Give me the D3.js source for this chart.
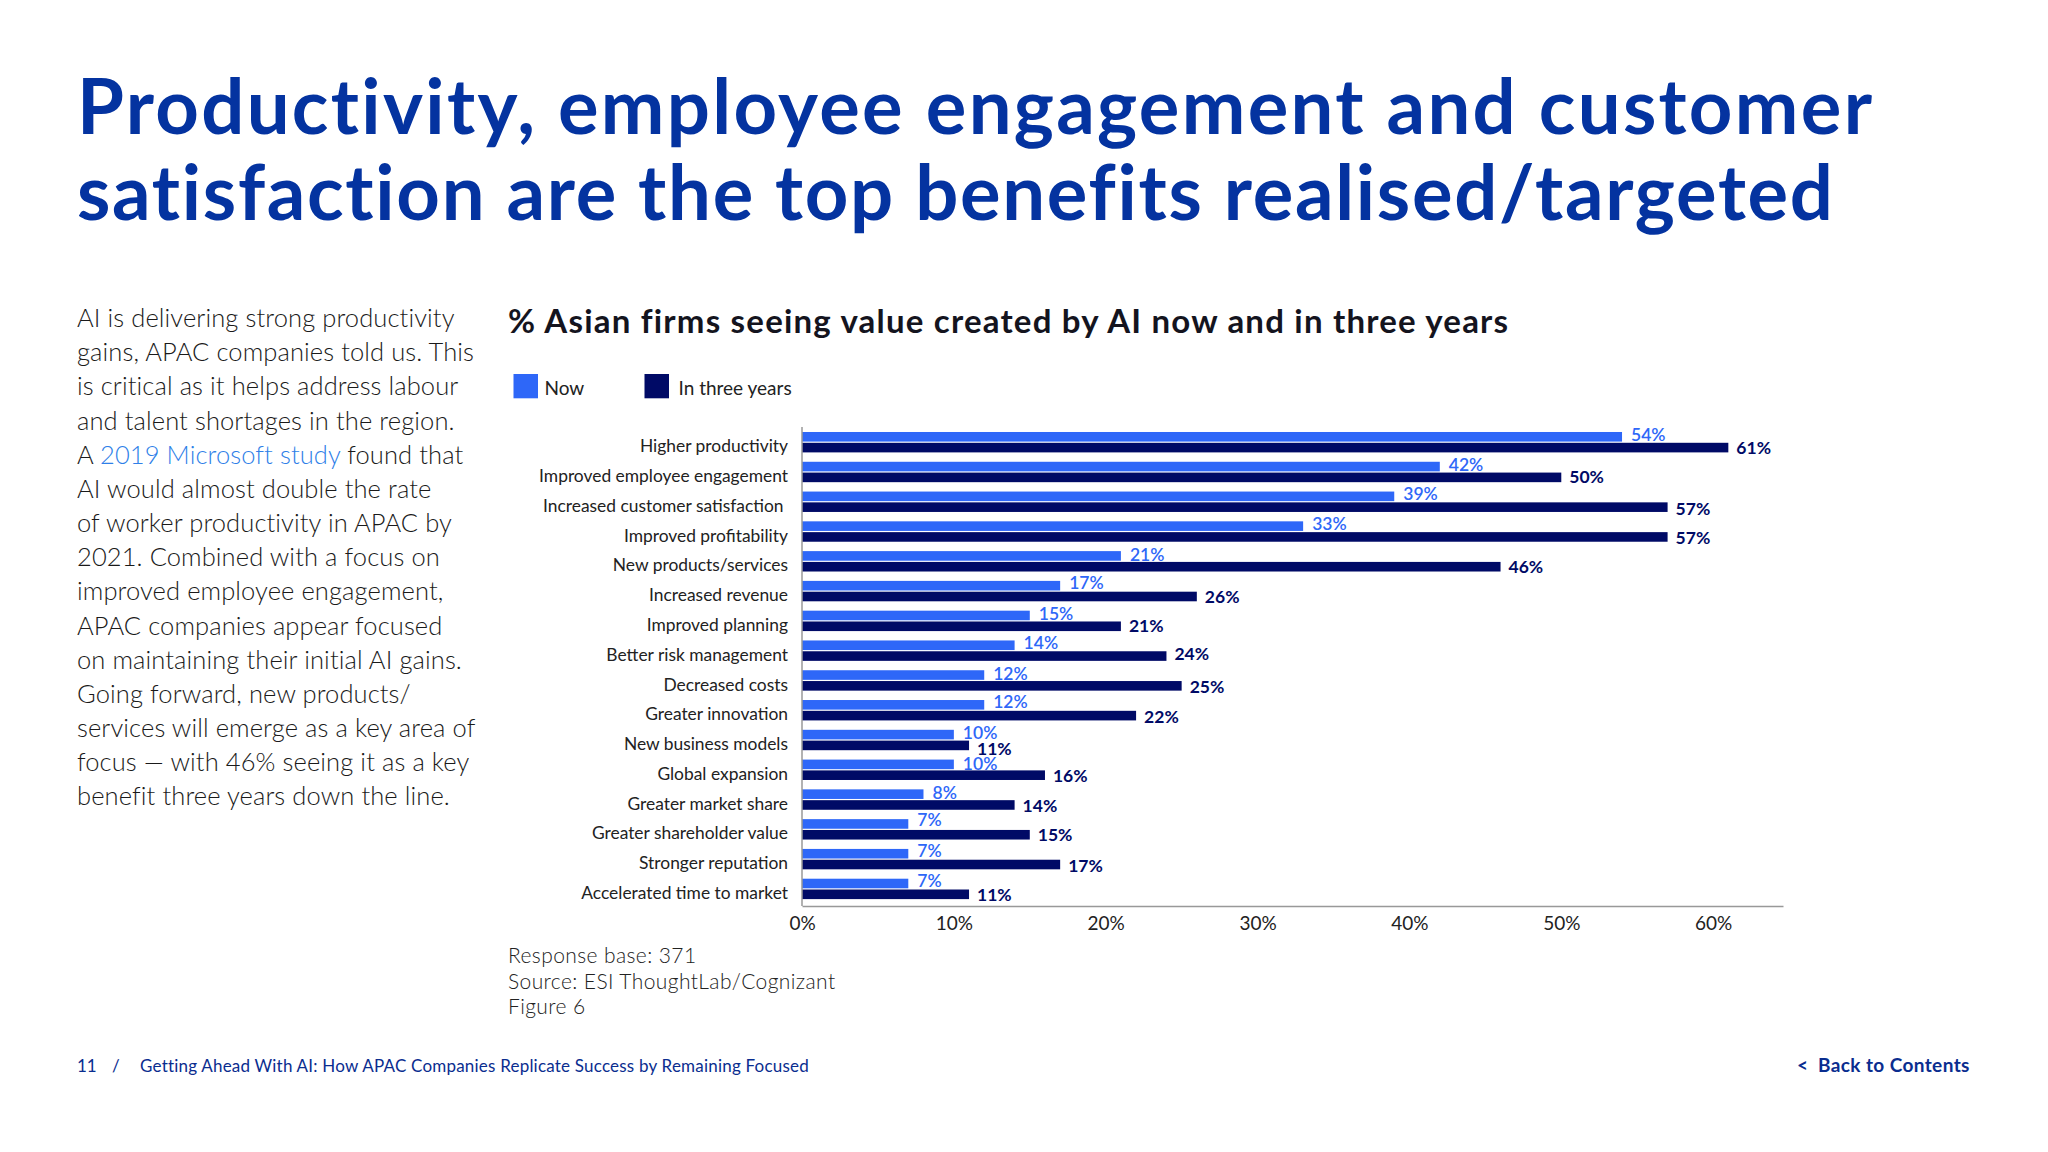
<!DOCTYPE html>
<html>
<head>
<meta charset="utf-8">
<script src="https://cdn.jsdelivr.net/npm/d3@7"></script>
<style>
  html, body { margin: 0; padding: 0; background: #fff; }
  svg { display: block; }
  text { font-family: Lato, "Open Sans", sans-serif; }
</style>
</head>
<body>
<svg id="chart" width="2048" height="1152"></svg>
<script>
var categories = ['Higher productivity', 'Improved employee engagement', 'Increased customer satisfaction',
  'Improved profitability', 'New products/services', 'Increased revenue', 'Improved planning',
  'Better risk management', 'Decreased costs', 'Greater innovation', 'New business models',
  'Global expansion', 'Greater market share', 'Greater shareholder value', 'Stronger reputation',
  'Accelerated time to market'];
var nowValues = [54, 42, 39, 33, 21, 17, 15, 14, 12, 12, 10, 10, 8, 7, 7, 7];
var threeYearValues = [61, 50, 57, 57, 46, 26, 21, 24, 25, 22, 11, 16, 14, 15, 17, 11];
var xTicks = [0, 10, 20, 30, 40, 50, 60];
var titleLines = ['Productivity, employee engagement and customer', 'satisfaction are the top benefits realised/targeted'];
var bodyLines = ['AI is delivering strong productivity', 'gains, APAC companies told us. This',
  'is critical as it helps address labour', 'and talent shortages in the region.',
  'A |2019 Microsoft study| found that', 'AI would almost double the rate',
  'of worker productivity in APAC by', '2021. Combined with a focus on',
  'improved employee engagement,', 'APAC companies appear focused',
  'on maintaining their initial AI gains.', 'Going forward, new products/',
  'services will emerge as a key area of', 'focus \u2014 with 46% seeing it as a key',
  'benefit three years down the line.'];
var noteLines = ['Response base: 371', 'Source: ESI ThoughtLab/Cognizant', 'Figure 6'];

var NOW = '#2e67f8', LATER = '#000a66', TITLE = '#0433a0', INK = '#222';

var svg = d3.select('#chart');

var x = d3.scaleLinear().domain([0, 64.6]).range([802, 1783]);
var y = d3.scaleBand().domain(categories).range([427.3, 903.8]);
var barH = 9.6;

svg.selectAll('text.title').data(titleLines).join('text')
  .attr('class', 'title')
  .attr('x', 77)
  .attr('y', function(d, i) { return 134 + i * 85.5; })
  .attr('font-size', 76).attr('font-weight', 700).attr('fill', TITLE)
  .attr('letter-spacing', function(d, i) { return i ? 1.7 : 2.3; })
  .text(function(d) { return d; });

var body = svg.selectAll('text.body').data(bodyLines).join('text')
  .attr('class', 'body')
  .attr('x', 77)
  .attr('y', function(d, i) { return 327 + i * 34.17; })
  .attr('font-size', 25.5).attr('font-weight', 300).attr('fill', '#1a1a1a')
  .attr('letter-spacing', 0.1);
body.each(function(d) {
  var parts = d.split('|'), t = d3.select(this);
  parts.forEach(function(p, i) {
    t.append('tspan').attr('fill', i === 1 ? '#2f7fe8' : null).text(p);
  });
});

svg.append('text')
  .attr('x', 508).attr('y', 333)
  .attr('font-size', 33).attr('font-weight', 700).attr('fill', '#14141e')
  .attr('letter-spacing', 1.2)
  .text('% Asian firms seeing value created by AI now and in three years');

// legend
var legend = svg.append('g');
[['Now', NOW, 513.5, 544.5], ['In three years', LATER, 644.5, 678.5]].forEach(function(l) {
  legend.append('rect').attr('x', l[2]).attr('y', 374).attr('width', 24.5).attr('height', 24.3).attr('fill', l[1]);
  legend.append('text').attr('x', l[3]).attr('y', 395).attr('font-size', 19).attr('fill', INK).text(l[0]);
});

// bars
var rows = svg.selectAll('g.row').data(categories).join('g')
  .attr('class', 'row')
  .attr('transform', function(d) { return 'translate(0,' + y(d) + ')'; });
var mid = y.bandwidth() / 2;

// now labels sit under the dark bars, the 10% on global expansion is cut by its bar
var nowNudge = [-2, -2, -2, -2, -1.3, -2.7, -1.7, -2, -1.3, -2.7, -1.3, -0.7, -1.3, -3.7, -3.3, -2.7];
var laterNudge = [0, 0, 1.3, 0.7, 0, 0, 0, -2, 1.5, 1.7, 3, 1, 1, 0, 1.3, 1];

rows.append('text')
  .attr('x', function(d, i) { return x(nowValues[i]) + 9; })
  .attr('y', function(d, i) { return mid - barH / 2 - 0.6 + nowNudge[i]; })
  .attr('dy', '0.35em')
  .attr('font-size', 17.5).attr('font-weight', 600).attr('fill', NOW)
  .text(function(d, i) { return nowValues[i] + '%'; });
rows.append('rect')
  .attr('x', x(0))
  .attr('y', mid - barH - 0.6)
  .attr('height', barH)
  .attr('width', function(d, i) { return x(nowValues[i]) - x(0); })
  .attr('fill', NOW);
rows.append('rect')
  .attr('x', x(0))
  .attr('y', mid + 0.6)
  .attr('height', barH)
  .attr('width', function(d, i) { return x(threeYearValues[i]) - x(0); })
  .attr('fill', LATER);
rows.append('text')
  .attr('x', function(d, i) { return x(threeYearValues[i]) + 8; })
  .attr('y', function(d, i) { return mid + barH / 2 + 0.6 + laterNudge[i]; })
  .attr('dy', '0.35em')
  .attr('font-size', 17.5).attr('font-weight', 700).attr('fill', LATER)
  .text(function(d, i) { return threeYearValues[i] + '%'; });

// axes
var xAxis = d3.axisBottom(x).tickValues(xTicks).tickSize(0).tickPadding(11).tickFormat(function(d) { return d + '%'; });
var xG = svg.append('g').attr('transform', 'translate(0,906)').call(xAxis);
xG.select('.domain').attr('stroke', '#999').attr('stroke-width', 1.5);
xG.selectAll('text').attr('font-size', 19).attr('font-family', 'Lato').attr('fill', INK);

var yAxis = d3.axisLeft(y).tickSize(0).tickPadding(14);
var yG = svg.append('g').attr('transform', 'translate(802,0)').call(yAxis);
yG.select('.domain').remove();
yG.selectAll('text').attr('font-size', 17.4).attr('font-family', 'Lato').attr('fill', INK)
  .attr('dy', '0.58em')
  .attr('dx', function(d) { return d === 'Increased customer satisfaction' ? -4.5 : 0; });
svg.append('line').attr('x1', 802).attr('x2', 802).attr('y1', 427).attr('y2', 906)
  .attr('stroke', '#999').attr('stroke-width', 1.5);

svg.selectAll('text.note').data(noteLines).join('text')
  .attr('class', 'note')
  .attr('x', 508)
  .attr('y', function(d, i) { return 963 + i * 25.5; })
  .attr('font-size', 21).attr('font-weight', 300).attr('fill', '#222')
  .attr('letter-spacing', 0.4)
  .text(function(d) { return d; });

// footer
var foot = svg.append('g').attr('fill', '#0a2d8f').attr('font-size', 17);
foot.append('text').attr('x', 77).attr('y', 1072).text('11');
foot.append('text').attr('x', 112).attr('y', 1072).text('/');
foot.append('text').attr('x', 140).attr('y', 1072).attr('letter-spacing', 0.21)
  .text('Getting Ahead With AI: How APAC Companies Replicate Success by Remaining Focused');
var back = svg.append('g').attr('fill', '#0a2d8f').attr('font-size', 19).attr('font-weight', 700);
back.append('text').attr('x', 1797).attr('y', 1072).text('<');
back.append('text').attr('x', 1818).attr('y', 1072).attr('letter-spacing', 0.4).text('Back to Contents');
</script>
</body>
</html>
